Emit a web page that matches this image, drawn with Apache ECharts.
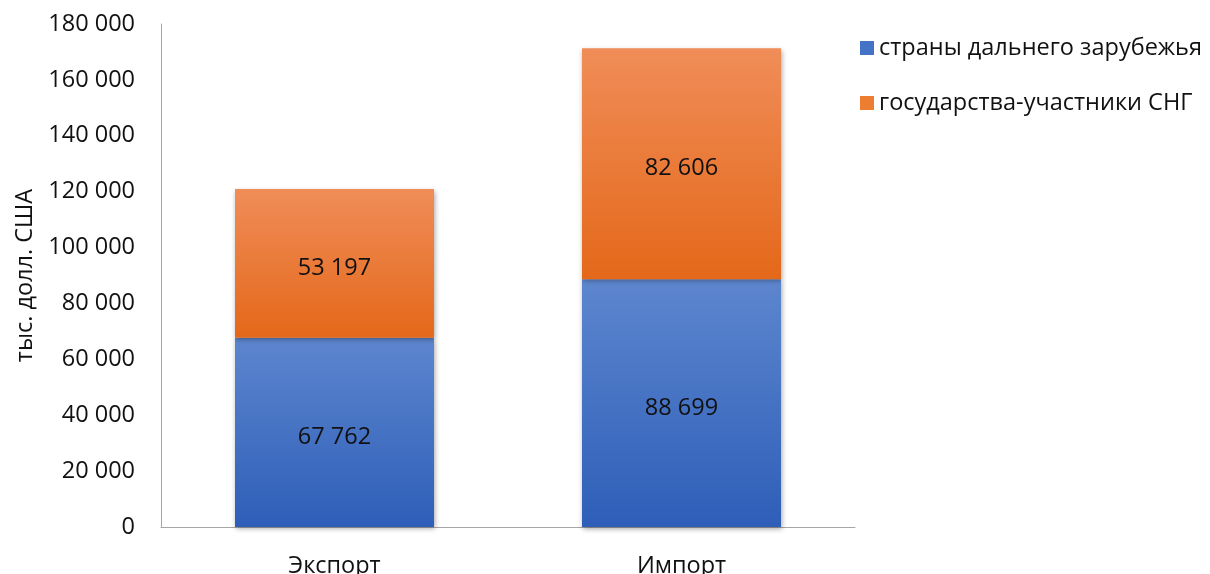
<!DOCTYPE html>
<html><head><meta charset="utf-8">
<script src="https://cdn.jsdelivr.net/npm/echarts@6/dist/echarts.min.js"></script>
<style>html,body{margin:0;padding:0;background:#fff}#c{width:1210px;height:574px}</style>
</head><body><div id="c"></div>
<script>
var categories = ['Экспорт', 'Импорт'];
var farAbroad = [67762, 88699];
var cis = [53197, 82606];
var seriesNames = ['страны дальнего зарубежья', 'государства-участники СНГ'];
var yTicks = [0, 20000, 40000, 60000, 80000, 100000, 120000, 140000, 160000, 180000];

function fmt(v){ return String(v).replace(/\B(?=(\d{3})+(?!\d))/g, ' '); }
var FONT = 'Open Sans';
var FS = 23.5;
var chart = echarts.init(document.getElementById('c'));
function grad(top, bottom){
  return new echarts.graphic.LinearGradient(0,0,0,1,[{offset:0,color:top},{offset:1,color:bottom}]);
}
chart.setOption({
  animation:false,
  textStyle:{fontFamily:FONT},
  legend:{
    orient:'vertical', left:855, top:30, itemGap:29, itemWidth:14, itemHeight:14,
    icon:'rect',
    textStyle:{fontSize:FS, color:'#111', fontFamily:FONT, lineHeight:26},
    data:[{name:seriesNames[0], itemStyle:{color:'#4472C4'}},{name:seriesNames[1], itemStyle:{color:'#ED7D31'}}]
  },
  grid:{left:161, top:24, width:694, bottom:47, containLabel:false, outerBoundsMode:'none'},
  xAxis:{
    type:'category', data:categories,
    axisLine:{lineStyle:{color:'#a6a6a6', width:1}},
    axisTick:{show:false},
    axisLabel:{fontSize:FS, color:'#111', margin:27, fontFamily:FONT}
  },
  yAxis:{
    type:'value', min:0, max:180000, interval:20000,
    name:'тыс. долл. США', nameLocation:'middle', nameGap:122, nameRotate:90,
    nameTextStyle:{fontSize:FS, color:'#111', fontFamily:FONT},
    axisLine:{show:true, lineStyle:{color:'#a6a6a6', width:1}},
    axisTick:{show:false},
    splitLine:{show:false},
    axisLabel:{fontSize:FS, color:'#111', margin:26, fontFamily:FONT, formatter:function(v){return fmt(v);}}
  },
  series:[
    {name:seriesNames[0], type:'bar', stack:'t', data:farAbroad, barWidth:199,
     itemStyle:{color:grad('#5D86CE','#2E5EB8'), shadowColor:'rgba(0,0,0,0.35)', shadowBlur:5, shadowOffsetX:1, shadowOffsetY:2},
     label:{show:true, position:'inside', offset:[0,5], fontSize:FS, color:'#111', fontFamily:FONT, formatter:function(p){return fmt(p.value);}}},
    {name:seriesNames[1], type:'bar', stack:'t', data:cis, barWidth:199,
     itemStyle:{color:grad('#F08D58','#E4681A'), shadowColor:'rgba(0,0,0,0.35)', shadowBlur:5, shadowOffsetX:1, shadowOffsetY:2},
     label:{show:true, position:'inside', offset:[0,5], fontSize:FS, color:'#111', fontFamily:FONT, formatter:function(p){return fmt(p.value);}}}
  ]
});
</script></body></html>
